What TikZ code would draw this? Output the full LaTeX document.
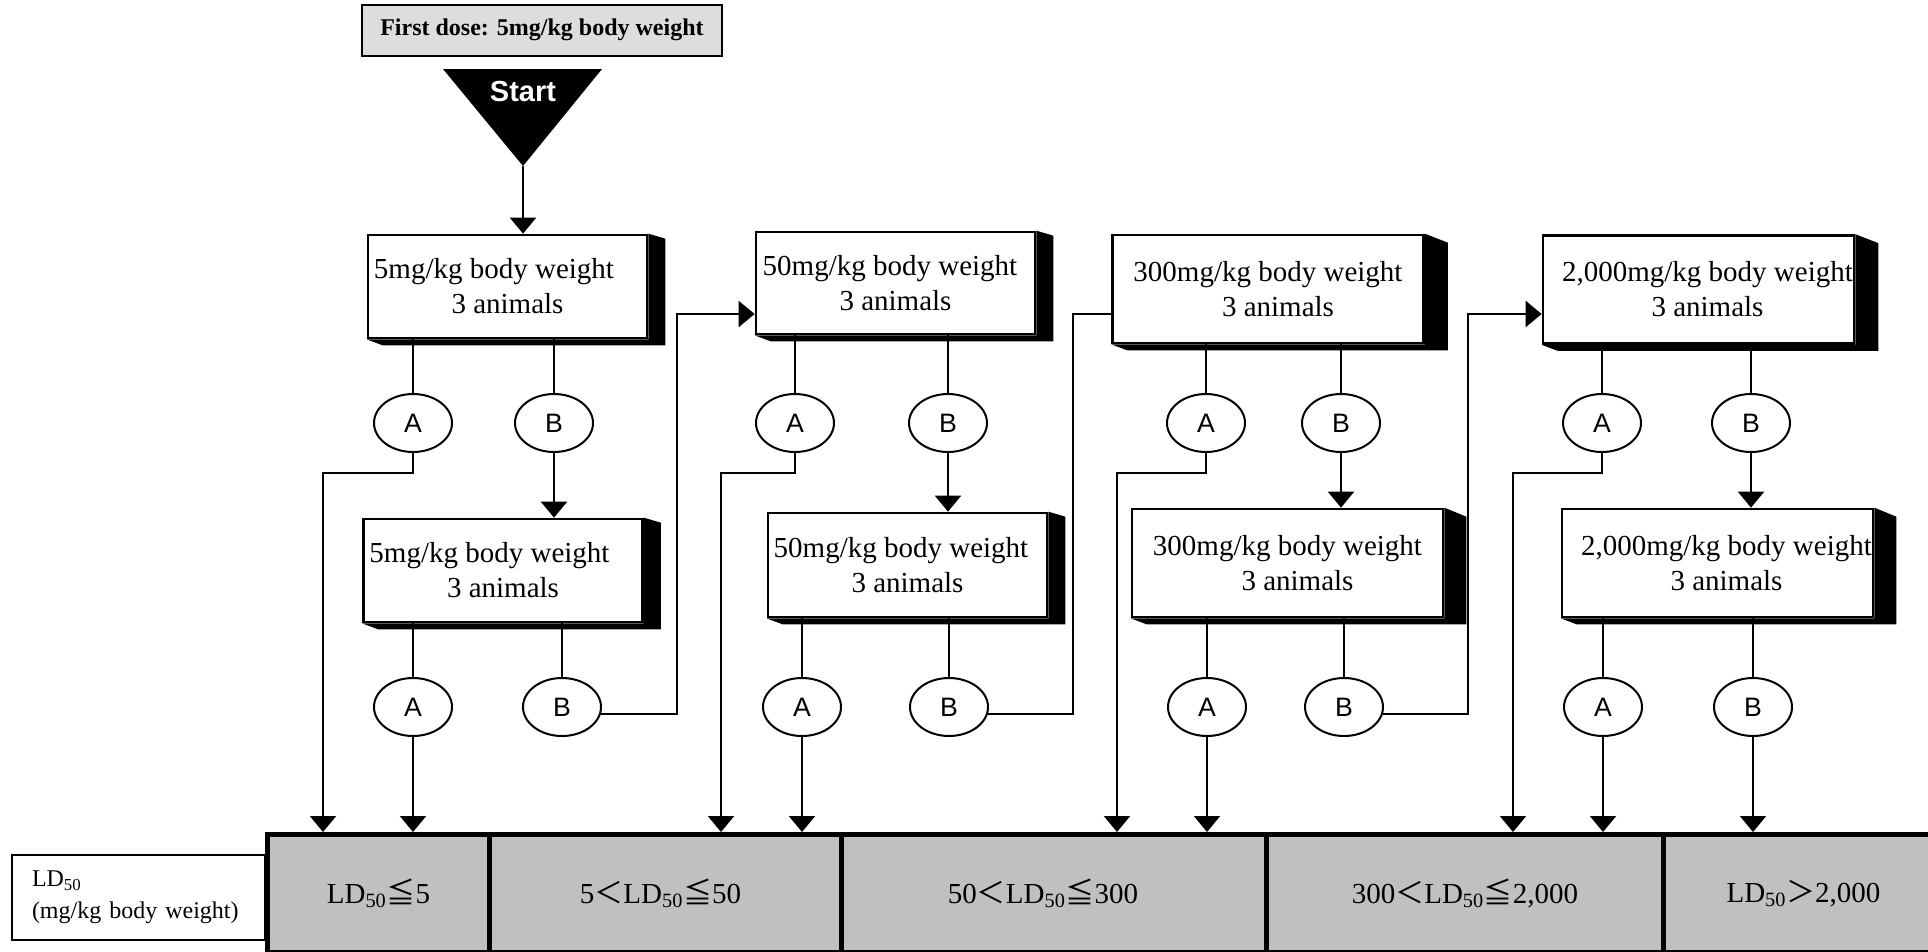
\documentclass[tikz,border=0pt]{standalone}
\usepackage{fontspec}
\setmainfont{Liberation Serif}
\setsansfont{Liberation Sans}
\newfontfamily\cjkfont{Noto Sans CJK JP}
\usetikzlibrary{shapes.geometric,arrows.meta,calc}

\newcommand{\ltj}{{\cjkfont ＜}}
\newcommand{\gtj}{{\cjkfont ＞}}
\newcommand{\lej}{{\cjkfont ≦}}

\tikzset{every picture/.style={line width=0.75pt}}
\tikzset{
  dosebox/.style={draw, fill=white, line width=2pt, minimum width=279*0.75, minimum height=103*0.75, align=center, inner sep=0pt, font=\fontsize{21.75}{26.25}\selectfont},
  widebox/.style={dosebox, minimum width=311*0.75, minimum height=108*0.75},
  outcome/.style={ellipse, draw, fill=white, line width=1.5pt, minimum width=78*0.75, minimum height=58*0.75, inner sep=0pt, font=\sffamily\fontsize{20}{24}\selectfont},
  flow/.style={line width=1.5pt},
  arr/.style={flow, -{Triangle[width=19.5pt,length=12pt]}},
  cellbox/.style={draw, fill={rgb, 255:red, 192; green, 192; blue, 192}, line width=3.75pt, minimum height=118*0.75, anchor=north west, inner sep=0pt, font=\fontsize{21.75}{26}\selectfont},
}

\begin{document}
\begin{tikzpicture}[x=0.75pt,y=0.75pt,yscale=-1,xscale=1]
    \useasboundingbox (0,0) rectangle (1928,951);

    % Text Node
    \node [draw, fill={rgb, 255:red, 221; green, 221; blue, 221}, line width=1.5pt, minimum width=360*0.75, minimum height=51*0.75, font=\bfseries\fontsize{18}{22}\selectfont] (first) at (542,30) {First dose: 5mg/kg body weight};

    %Shape: Triangle
    \fill (443,69) -- (602,69) -- (523,166) -- cycle ;
    \coordinate (starttip) at (523,166);
    % Text Node
    \node [text=white, font=\sffamily\bfseries\fontsize{21.75}{26}\selectfont] (start) at (523,92) {Start};

    %Shape: Dose boxes
    \node [dosebox] (T1) at (507.5,286.5) {5mg/kg body weight\kern20.25pt\\3 animals};
    \node [dosebox] (L1) at (503,570.5) {5mg/kg body weight\kern20.25pt\\3 animals};
    \node [dosebox, minimum height=102*0.75] (T2) at (895.5,283) {50mg/kg body weight\kern8.25pt\\3 animals};
    \node [dosebox, minimum height=104*0.75] (L2) at (907.5,565) {50mg/kg body weight\kern9.75pt\\3 animals};
    \node [widebox] (T3) at (1268,289) {300mg/kg body weight\\\kern15pt3 animals};
    \node [widebox] (L3) at (1287.5,563) {300mg/kg body weight\\\kern15pt3 animals};
    \node [widebox] (T4) at (1698.5,289.5) {\kern13.5pt2,000mg/kg body weight\\\kern13.5pt3 animals};
    \node [widebox] (L4) at (1717.5,563) {\kern13.5pt2,000mg/kg body weight\\\kern13.5pt3 animals};

    %Shape: Shadows
    \foreach \n/\d/\k in {T1/17/5, L1/17/5, T2/17/5, L2/17/5, T3/23/9, L3/22/9, T4/23/9, L4/22/9}
      \fill (\n.north east) -- ($(\n.north east)+(\d,\k)$) -- ($(\n.south east)+(\d,6)$) -- ($(\n.south west)+(16,6)$) -- (\n.south west) -- (\n.south east) -- cycle ;

    %Shape: Ellipses
    \node [outcome] (tA1) at (413,423) {A};
    \node [outcome] (tB1) at (554,423) {B};
    \node [outcome] (lA1) at (413,707) {A};
    \node [outcome] (lB1) at (562,707) {B};
    \node [outcome] (tA2) at (795,423) {A};
    \node [outcome] (tB2) at (948,423) {B};
    \node [outcome] (lA2) at (802,707) {A};
    \node [outcome] (lB2) at (949,707) {B};
    \node [outcome] (tA3) at (1206,423) {A};
    \node [outcome] (tB3) at (1341,423) {B};
    \node [outcome] (lA3) at (1207,707) {A};
    \node [outcome] (lB3) at (1344,707) {B};
    \node [outcome] (tA4) at (1602,423) {A};
    \node [outcome] (tB4) at (1751,423) {B};
    \node [outcome] (lA4) at (1603,707) {A};
    \node [outcome] (lB4) at (1753,707) {B};

    %Shape: LD50 label
    \node [draw, fill=white, line width=1.5pt, minimum height=85*0.75, text width=159.75pt, inner xsep=15pt, align=left, font=\fontsize{18}{24}\selectfont] (ldlabel) at (138.5,897.5) {LD\textsubscript{50}\\(mg/kg body weight)};

    %Shape: LD50 bar
    \node [cellbox, minimum width=222*0.75] (cell1) at (265,832) {LD\textsubscript{50}\lej 5};
    \node [cellbox, minimum width=352*0.75] (cell2) at (487,832) {5\ltj LD\textsubscript{50}\lej 50\kern7.5pt};
    \node [cellbox, minimum width=425*0.75] (cell3) at (839,832) {50\ltj LD\textsubscript{50}\lej 300\kern16.5pt};
    \node [cellbox, minimum width=397*0.75] (cell4) at (1264,832) {300\ltj LD\textsubscript{50}\lej 2,000};
    \node [cellbox, minimum width=280*0.75] (cell5) at (1661,832) {LD\textsubscript{50}\gtj 2,000};

    \coordinate (lane1) at (323,473);
    \coordinate (lane2) at (721,473);
    \coordinate (lane3) at (1117,473);
    \coordinate (lane4) at (1513,473);
    \coordinate (up1) at (677,314);
    \coordinate (up2) at (1073,314);
    \coordinate (up3) at (1468,314);

    %Connectors
    \draw [arr] (starttip) -- (starttip |- T1.north);
    \foreach \c in {1,2,3,4} {
      \draw [flow] (tA\c |- T\c.south) -- (tA\c);
      \draw [flow] (tB\c |- T\c.south) -- (tB\c);
      \draw [arr] (tB\c) -- (tB\c |- L\c.north);
      \draw [flow] (lA\c |- L\c.south) -- (lA\c);
      \draw [flow] (lB\c |- L\c.south) -- (lB\c);
      \draw [arr] (tA\c.south) |- (lane\c) -- (lane\c |- cell1.north);
      \draw [arr] (lA\c) -- (lA\c |- cell1.north);
    }
    \draw [arr] (lB4) -- (lB4 |- cell1.north);
    \draw [arr] (lB1.-10) -| (up1) -- (up1 -| T2.west);
    \draw [flow] (lB2.-10) -| (up2) -- (up2 -| T3.west);
    \draw [arr] (lB3.-10) -| (up3) -- (up3 -| T4.west);

\end{tikzpicture}
\end{document}
